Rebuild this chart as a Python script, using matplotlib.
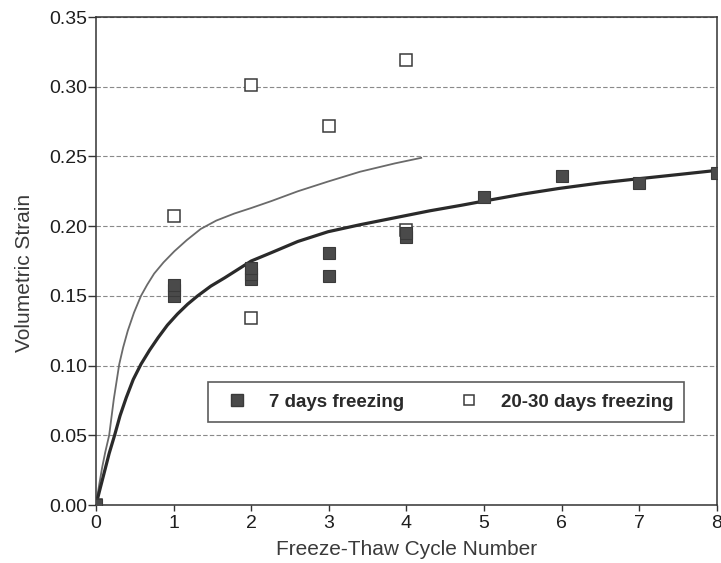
import numpy as np
import matplotlib.pyplot as plt
from matplotlib.lines import Line2D

plt.rcParams['font.family'] = ['Liberation Sans', 'DejaVu Sans']

# Measured strains, 7 days of freezing per cycle
cycles_7d = [0, 1, 1, 1, 2, 2, 2, 3, 3, 4, 4, 5, 6, 7, 8]
strain_7d = [0.0, 0.150, 0.154, 0.158, 0.162, 0.166, 0.170,
             0.164, 0.181, 0.192, 0.195, 0.221, 0.236, 0.231, 0.238]

# Measured strains, 20-30 days of freezing per cycle
cycles_20d = [0, 1, 2, 2, 3, 4, 4]
strain_20d = [0.0, 0.207, 0.301, 0.134, 0.272, 0.319, 0.197]

# Fitted trend, 7 days freezing
fit_7d_x = [0, 0.05, 0.11, 0.17, 0.24, 0.31, 0.39, 0.48, 0.58, 0.69, 0.80, 0.92,
            1.05, 1.18, 1.31, 1.48, 1.66, 1.83, 2.0, 2.26, 2.6, 2.99, 3.4, 3.85,
            4.3, 4.71, 5.0, 5.5, 5.96, 6.5, 6.99, 7.5, 8.0]
fit_7d_y = [0, 0.011, 0.024, 0.037, 0.050, 0.064, 0.077, 0.090, 0.101, 0.111,
            0.120, 0.129, 0.137, 0.144, 0.150, 0.157, 0.163, 0.169, 0.175, 0.181,
            0.189, 0.196, 0.201, 0.206, 0.211, 0.215, 0.218, 0.223, 0.227, 0.231,
            0.234, 0.237, 0.240]

# Fitted trend, 20-30 days freezing
fit_20d_x = [0, 0.04, 0.08, 0.12, 0.17, 0.23, 0.30, 0.35, 0.41, 0.49, 0.58, 0.66,
             0.75, 0.87, 1.01, 1.17, 1.35, 1.55, 1.78, 2.0, 2.26, 2.6, 2.99, 3.4,
             3.85, 4.19]
fit_20d_y = [0, 0.014, 0.027, 0.038, 0.050, 0.076, 0.101, 0.113, 0.125, 0.138,
             0.150, 0.158, 0.166, 0.174, 0.182, 0.190, 0.198, 0.204, 0.209, 0.213,
             0.218, 0.225, 0.232, 0.239, 0.245, 0.249]

fig = plt.figure(figsize=(7.21, 5.63), dpi=100)
ax = fig.add_axes([0.1331, 0.1030, 0.8613, 0.8668])

ax.plot(fit_20d_x, fit_20d_y, color='#6a6a6a', lw=1.3, zorder=2)
ax.plot(fit_7d_x, fit_7d_y, color='#2a2a2a', lw=2.3, zorder=2)

ax.plot(cycles_20d, strain_20d, ls='none', marker='s', ms=8, mfc='white',
        mec='#3a3a3a', mew=1.1, zorder=3)
ax.plot(cycles_7d, strain_7d, ls='none', marker='s', ms=8.5, mfc='#4a4a4a',
        mec='#3a3a3a', mew=0.8, zorder=4)

ax.set_xlim(0, 8)
ax.set_ylim(0, 0.35)
ax.set_xticks(range(9))
ax.set_yticks(np.arange(0, 0.351, 0.05))
ax.set_yticklabels(['0.00', '0.05', '0.10', '0.15', '0.20', '0.25', '0.30', '0.35'])
ax.yaxis.grid(True, ls=(0, (4, 2)), color='#8a8a8a', lw=0.8)
ax.set_axisbelow(True)
ax.tick_params(direction='out', width=1, color='#333333',
               labelsize=14, labelcolor='#1e1e1e')
ax.tick_params(axis='y', length=5.5, pad=1)
ax.tick_params(axis='x', length=4, pad=3)
for side in ax.spines.values():
    side.set_color('#333333')
    side.set_linewidth(1.1)

ax.set_xlabel('Freeze-Thaw Cycle Number', fontsize=15, color='#3a3a3a', labelpad=6)
ax.set_ylabel('Volumetric Strain', fontsize=15, color='#3a3a3a')
ax.yaxis.set_label_coords(-0.1, 0.475)

handles = [
    Line2D([], [], ls='none', marker='s', ms=8, mfc='#4a4a4a', mec='#3a3a3a'),
    Line2D([], [], ls='none', marker='s', ms=7.5, mfc='white', mec='#3a3a3a', mew=1.1),
]
leg = ax.legend(handles, ['7 days freezing', '20-30 days freezing'], ncol=2,
                loc='center', bbox_to_anchor=(0.564, 0.211),
                frameon=True, fancybox=False, edgecolor='#333333',
                columnspacing=2.5, handletextpad=0.75, handlelength=1.9,
                borderpad=0.6, prop={'weight': 'bold', 'size': 13.5})
leg.get_frame().set_linewidth(1.2)
for t in leg.get_texts():
    t.set_color('#2a2a2a')

fig.savefig('out.png', dpi=100)
